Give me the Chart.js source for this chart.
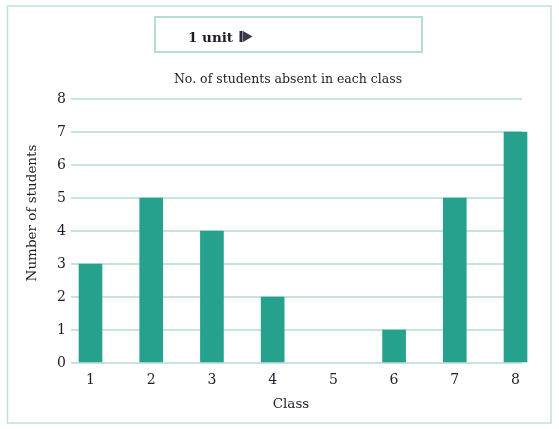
<!DOCTYPE html>
<html>
<head>
<meta charset="utf-8">
<script src="https://cdn.jsdelivr.net/npm/chart.js@4.4.1/dist/chart.umd.min.js"></script>
<style>
  html, body { margin: 0; padding: 0; background: #ffffff; }
  canvas { display: block; }
</style>
</head>
<body>
<canvas id="c" width="559" height="429"></canvas>
<script>
const classes = [1, 2, 3, 4, 5, 6, 7, 8];
const absent = [3, 5, 4, 2, 0, 1, 5, 7];
const yTicks = [0, 1, 2, 3, 4, 5, 6, 7, 8];
const chartTitle = 'No. of students absent in each class';
const xTitle = 'Class';
const yTitle = 'Number of students';
const unitText = '1 unit';

const FONT = "'DejaVu Serif', serif";
const TEXT = '#1d1d2b';
const GRID = '#c6e3dc';
const BAR = '#25a18e';

const decor = {
  id: 'decor',
  beforeDraw(chart) {
    const ctx = chart.ctx;
    ctx.save();
    ctx.fillStyle = '#ffffff';
    ctx.fillRect(0, 0, chart.width, chart.height);
    ctx.strokeStyle = '#bfe0d7';
    ctx.lineWidth = 1.5;
    ctx.strokeRect(7.5, 6, 543.5, 417);
    ctx.strokeStyle = '#b5ddd2';
    ctx.lineWidth = 2;
    ctx.strokeRect(155, 17, 267, 35);
    ctx.restore();
  },
  afterDraw(chart) {
    const ctx = chart.ctx;
    ctx.save();
    ctx.fillStyle = TEXT;
    ctx.font = "bold 13.5px " + FONT;
    ctx.textAlign = 'left';
    ctx.textBaseline = 'alphabetic';
    ctx.fillText(unitText, 188, 42);
    ctx.fillStyle = '#2b2b3b';
    ctx.fillRect(239.5, 31, 3, 11);
    ctx.fillStyle = '#3b3b4d';
    ctx.beginPath();
    ctx.moveTo(243, 31);
    ctx.lineTo(252.5, 36.5);
    ctx.lineTo(243, 42);
    ctx.closePath();
    ctx.fill();
    ctx.fillStyle = TEXT;
    ctx.font = "12.5px " + FONT;
    ctx.textAlign = 'center';
    ctx.textBaseline = 'middle';
    ctx.fillText(chartTitle, 288, 80);
    ctx.font = "13.5px " + FONT;
    ctx.fillText(xTitle, 291, 404);
    ctx.translate(32, 213);
    ctx.rotate(-Math.PI / 2);
    ctx.fillText(yTitle, 0, 0);
    ctx.restore();
  }
};

new Chart(document.getElementById('c'), {
  type: 'bar',
  data: {
    datasets: [{
      data: classes.map((c, i) => ({ x: c, y: absent[i] })),
      backgroundColor: (ctx) => (ctx.raw && ctx.raw.y === 0 ? 'rgba(0,0,0,0)' : BAR),
      borderWidth: 0,
      barThickness: 23,
      clip: false
    }]
  },
  options: {
    responsive: false,
    animation: false,
    devicePixelRatio: 1,
    layout: { padding: { left: 0, right: 37, top: 99, bottom: 0 } },
    plugins: { legend: { display: false }, title: { display: false }, tooltip: { enabled: false } },
    scales: {
      x: {
        type: 'linear',
        offset: false,
        min: 0.7941,
        max: 8.107,
        grid: { display: false, drawTicks: false, offset: false },
        border: { display: false },
        ticks: {
          padding: 9,
          color: TEXT,
          font: { family: FONT, size: 14 },
          callback: (v) => String(v)
        },
        afterBuildTicks: (scale) => { scale.ticks = classes.map(v => ({ value: v })); },
        afterFit: (scale) => { scale.height = 66; }
      },
      y: {
        min: 0,
        max: 8,
        grid: { color: GRID, lineWidth: 2, tickLength: 7, drawTicks: true },
        border: { display: false },
        ticks: {
          padding: 5,
          color: TEXT,
          font: { family: FONT, size: 14 },
          stepSize: 1
        },
        afterBuildTicks: (scale) => { scale.ticks = yTicks.map(v => ({ value: v })); },
        afterFit: (scale) => { scale.width = 78; }
      }
    }
  },
  plugins: [decor]
});
</script>
</body>
</html>
